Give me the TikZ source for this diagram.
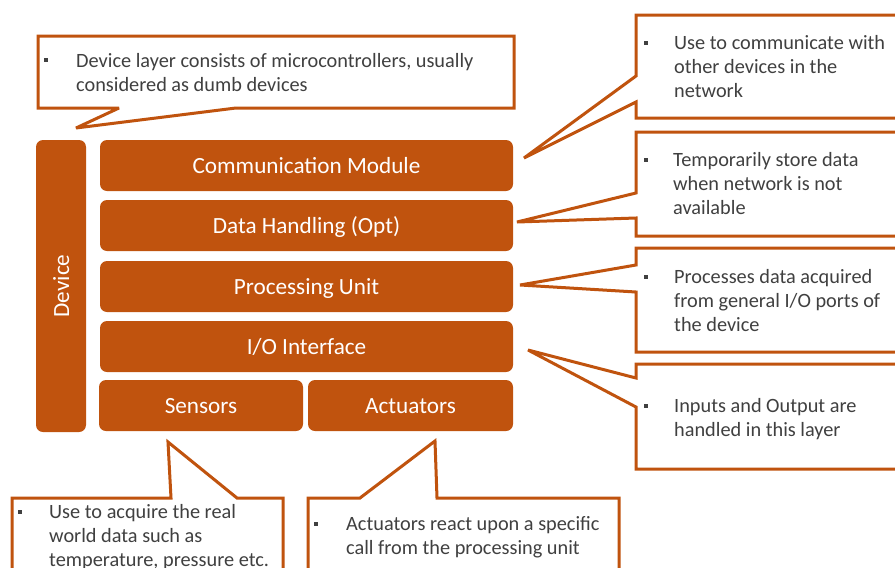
\documentclass[tikz,border=0pt]{standalone}
\usepackage{fontspec}
\setmainfont{Carlito}
\definecolor{rust}{RGB}{192,83,14}
\definecolor{ink}{RGB}{64,64,64}
\begin{document}
\begin{tikzpicture}[x=1pt,y=-1pt,
  layer/.style={fill=rust, rounded corners=7pt, inner sep=0pt},
  % labels sit on a fixed baseline below the box centre
  layertext/.style={text=white, inner sep=0pt, anchor=base, yshift=-8pt,
    font=\fontsize{23.2}{28}\selectfont},
  balloon/.style={draw=rust, line width=3pt, fill=white, line join=miter, miter limit=3},
  % anchored at the baseline of the last line
  note/.style={anchor=base west, inner sep=0pt, align=left, text=ink,
    font=\fontsize{20.3}{24}\selectfont},
  bulletmark/.style={fill=ink, minimum size=4.5pt, inner sep=0pt}
]
\useasboundingbox (0,0) rectangle (895,568);
\clip (0,0) rectangle (895,568);

% ---- device stack ----
\node[layer, minimum width=50pt, minimum height=292pt] (device) at (61,286) {};
\node[text=white, inner sep=0pt, font=\fontsize{23.2}{28}\selectfont,
  rotate=90, anchor=base] (devicelabel) at ([xshift=8pt]device.center) {Device};

\node[layer, minimum width=413pt, minimum height=51pt] (comm) at (306.5,165.5) {};
\node[layertext] (commlabel) at (comm.center) {Communication Module};
\node[layer, minimum width=413pt, minimum height=51pt] (data) at (306.5,225.5) {};
\node[layertext] (datalabel) at (data.center) {Data Handling (Opt)};
\node[layer, minimum width=413pt, minimum height=51pt] (proc) at (306.5,286.5) {};
\node[layertext] (proclabel) at (proc.center) {Processing Unit};
\node[layer, minimum width=413pt, minimum height=51pt] (io) at (306.5,346.5) {};
\node[layertext] (iolabel) at (io.center) {I/O Interface};
\node[layer, minimum width=204pt, minimum height=51pt] (sens) at (201,405.5) {};
\node[layertext] (senslabel) at (sens.center) {Sensors};
\node[layer, minimum width=205pt, minimum height=51pt] (act) at (410.5,405.5) {};
\node[layertext] (actlabel) at (act.center) {Actuators};

% ---- callout balloons ----
\draw[balloon] (38,36) -- (514,36) -- (514,108) -- (236,108) -- (76,128)
  -- (119,108) -- (38,108) -- cycle;
\draw[balloon] (636,15) -- (905,15) -- (905,118) -- (636,118) -- (636,102)
  -- (524,158) -- (636,76) -- cycle;
\draw[balloon] (636,132) -- (905,132) -- (905,236) -- (636,236) -- (636,218)
  -- (517,222) -- (636,193) -- cycle;
\draw[balloon] (636,248) -- (905,248) -- (905,352) -- (636,352) -- (636,292)
  -- (520,285) -- (636,265) -- cycle;
\draw[balloon] (636,364) -- (905,364) -- (905,469) -- (636,469) -- (636,407)
  -- (528,350) -- (636,378) -- cycle;
\draw[balloon] (12,498) -- (171,498) -- (168,442) -- (237,498) -- (283,498)
  -- (283,580) -- (12,580) -- cycle;
\draw[balloon] (308,498) -- (360,498) -- (435,441) -- (437,498) -- (619,498)
  -- (619,580) -- (308,580) -- cycle;

% ---- callout texts ----
\node[bulletmark] (b0) at (46,60) {};
\node[note] (t0) at (76,91) {Device layer consists of microcontrollers, usually\\considered as dumb devices};
\node[bulletmark] (b1) at (646,43) {};
\node[note] (t1) at (674,97) {Use to communicate with\\other devices in the\\network};
\node[bulletmark] (b2) at (646,160) {};
\node[note] (t2) at (673,214) {Temporarily store data\\when network is not\\available};
\node[bulletmark] (b3) at (646,277) {};
\node[note] (t3) at (674,331) {Processes data acquired\\from general I/O ports of\\the device};
\node[bulletmark] (b4) at (646,406) {};
\node[note] (t4) at (674,436) {Inputs and Output are\\handled in this layer};
\node[bulletmark] (b5) at (20,512) {};
\node[note] (t5) at (49,566) {Use to acquire the real\\world data such as\\temperature, pressure etc.};
\node[bulletmark] (b6) at (316,524) {};
\node[note] (t6) at (346,554) {Actuators react upon a specific\\call from the processing unit};
\end{tikzpicture}
\end{document}
